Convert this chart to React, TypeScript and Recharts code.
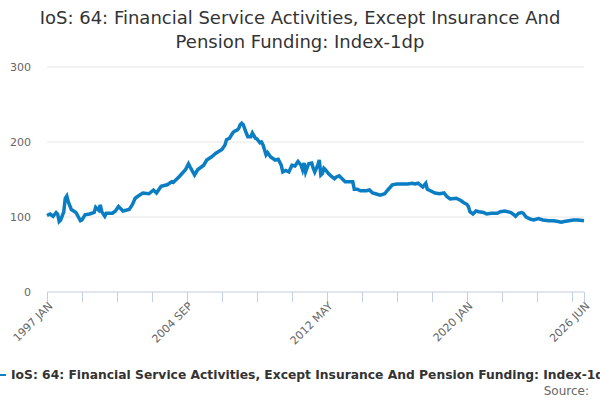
import { LineChart, Line, XAxis, YAxis, CartesianGrid } from 'recharts';

// monthly readings (YYYY-MM) and index values
const periods = [
  '1997-01', '1997-03', '1997-05', '1997-07', '1997-08', '1997-09', '1997-10', '1997-12',
  '1998-01', '1998-02', '1998-03', '1998-05', '1998-08', '1998-11', '1998-12',
  '1999-02', '1999-05', '1999-08', '1999-09', '1999-11', '1999-12',
  '2000-01', '2000-03', '2000-04', '2000-08', '2000-10', '2000-12',
  '2001-03', '2001-07', '2001-09', '2001-11',
  '2002-01', '2002-04', '2002-08', '2002-11',
  '2003-01', '2003-04', '2003-08', '2003-11', '2003-12',
  '2004-04', '2004-08', '2004-10', '2004-11',
  '2005-02', '2005-04', '2005-08', '2005-10',
  '2006-01', '2006-04', '2006-08', '2006-10', '2006-11',
  '2007-01', '2007-03', '2007-04', '2007-06', '2007-07', '2007-08', '2007-09', '2007-10', '2007-12',
  '2008-01', '2008-03', '2008-04', '2008-06', '2008-07', '2008-09', '2008-10', '2008-11',
  '2009-01', '2009-02', '2009-04', '2009-07', '2009-09', '2009-11', '2009-12',
  '2010-02', '2010-04', '2010-06', '2010-08', '2010-10', '2010-12',
  '2011-01', '2011-02', '2011-03', '2011-05', '2011-07', '2011-08', '2011-09', '2011-11', '2011-12',
  '2012-01', '2012-02', '2012-03', '2012-04', '2012-06', '2012-08', '2012-10', '2012-11',
  '2013-01', '2013-02', '2013-03', '2013-05', '2013-08', '2013-10', '2013-11',
  '2014-01', '2014-03', '2014-07', '2014-09', '2014-11',
  '2015-01', '2015-04', '2015-07', '2015-09', '2015-12',
  '2016-03', '2016-07', '2016-10',
  '2017-01', '2017-03', '2017-05', '2017-08', '2017-10', '2017-11',
  '2018-01', '2018-04', '2018-07', '2018-10', '2018-12',
  '2019-02', '2019-06', '2019-09', '2019-11',
  '2020-01', '2020-02', '2020-03', '2020-05', '2020-07', '2020-09', '2020-12',
  '2021-02', '2021-05', '2021-09', '2021-11',
  '2022-02', '2022-06', '2022-08', '2022-09', '2022-11',
  '2023-01', '2023-02', '2023-04', '2023-07', '2023-09', '2023-12',
  '2024-03', '2024-07', '2024-10',
  '2025-01', '2025-03', '2025-05', '2025-08', '2025-11',
  '2026-02', '2026-06',
];

const values = [
  102, 104, 101, 106, 104, 94, 96, 107,
  125, 128, 120, 110, 106, 95, 96,
  103, 104, 106, 113, 109, 116,
  107, 101, 105, 105, 108, 114,
  108, 110, 116, 125,
  128, 132, 131, 136,
  132, 141, 143, 147, 146,
  154, 163, 171, 167,
  156, 163, 169, 176,
  180, 185, 190, 196, 203,
  205, 212, 214, 216, 218, 223, 225, 223, 212,
  207, 207, 212, 205, 204, 199, 200, 196,
  183, 186, 180, 176, 177, 169, 160,
  162, 160, 169, 168, 174, 169,
  163, 172, 160, 171, 172, 165, 160, 169, 176,
  156, 158, 165, 163, 158, 154, 151, 153,
  155, 153, 151, 147, 147, 147, 137,
  137, 135, 135, 136, 132,
  131, 129, 131, 136, 143,
  144, 144, 144,
  145, 144, 145, 140, 145, 137,
  135, 132, 131, 132, 127,
  124, 125, 122, 119,
  117, 114, 107, 104, 108, 107, 106,
  104, 105, 105, 107,
  108, 106, 103, 101, 105,
  106, 105, 100, 97, 96, 98,
  96, 95, 95,
  94, 93, 94, 95, 96,
  96, 95,
];

const monthNames = ['JAN', 'FEB', 'MAR', 'APR', 'MAY', 'JUN', 'JUL', 'AUG', 'SEP', 'OCT', 'NOV', 'DEC'];
const startYear = 1997;
const lastMonth = 353; // 2026 JUN
const tickStep = 23;
const labelledTicks = [0, 92, 184, 276, 353];
const yTicks = [0, 100, 200, 300];

const title = 'IoS: 64: Financial Service Activities, Except Insurance And Pension Funding: Index-1dp';
const lineColor = '#0b7dc3';
const axisColor = '#ccd6eb';
const font = '"DejaVu Sans", Verdana, sans-serif';

const toIndex = (p: string) => {
  const [y, m] = p.split('-').map(Number);
  return (y - startYear) * 12 + (m - 1);
};

const toLabel = (i: number) => `${startYear + Math.floor(i / 12)} ${monthNames[i % 12]}`;

const data = periods.map((p, i) => ({ t: toIndex(p), value: values[i] }));

const xTicks: number[] = [];
for (let i = 0; i <= lastMonth; i += tickStep) xTicks.push(i);
xTicks.push(lastMonth);

// tick mark drawn here, so every tick gets one even when it has no label
const DateTick = (props: any) => {
  const { x, y, payload } = props;
  const showLabel = labelledTicks.includes(payload.value);
  const px = Math.round(x) + 0.5;
  return (
    <g transform={`translate(${px},${y})`}>
      <line x1={0} x2={0} y1={-2} y2={8} stroke="#c2cee6" strokeWidth={1} />
      {showLabel && (
        <text
          transform="translate(3,10) rotate(-45)"
          x={0}
          y={0}
          dy="0.35em"
          textAnchor="end"
          fill="#666"
          fontSize={11}
          fontFamily={font}
        >
          {toLabel(payload.value)}
        </text>
      )}
    </g>
  );
};

const App = () => {
  return (
    <div style={{ position: 'absolute', left: 0, top: 0, width: 600, height: 400, background: '#fff', fontFamily: font }}>
      <div
        style={{
          position: 'absolute',
          top: 6,
          left: 10,
          width: 580,
          textAlign: 'center',
          fontSize: 18,
          lineHeight: '24px',
          color: '#333',
        }}
      >
        {title}
      </div>
      <LineChart
        width={600}
        height={400}
        data={data}
        margin={{ top: 67, right: 16, left: 7, bottom: 48 }}
      >
        <CartesianGrid vertical={false} stroke="#e6e6e6" />
        <XAxis
          dataKey="t"
          type="number"
          domain={[0, lastMonth]}
          ticks={xTicks}
          interval={0}
          height={60}
          axisLine={{ stroke: axisColor }}
          tickLine={false}
          tickSize={0}
          tickMargin={2}
          tick={<DateTick />}
        />
        <YAxis
          width={40}
          domain={[0, 300]}
          ticks={yTicks}
          axisLine={false}
          tickLine={false}
          tickMargin={10}
          tick={{ fill: '#666', fontSize: 11, fontFamily: font }}
        />
        <Line
          type="linear"
          dataKey="value"
          stroke={lineColor}
          strokeWidth={3.5}
          dot={false}
          isAnimationActive={false}
        />
      </LineChart>
      <div style={{ position: 'absolute', top: 364, left: 0, width: 600, overflow: 'hidden', whiteSpace: 'nowrap', height: 18 }}>
        <span style={{ display: 'inline-block', width: 6, height: 2, background: lineColor, verticalAlign: 'middle', marginRight: 5 }} />
        <span style={{ fontSize: 12.3, fontWeight: 'bold', color: '#333', verticalAlign: 'middle' }}>{title}</span>
      </div>
      <div style={{ position: 'absolute', top: 384, right: 11, fontSize: 12, color: '#666' }}>Source:</div>
    </div>
  );
};

export default App;
